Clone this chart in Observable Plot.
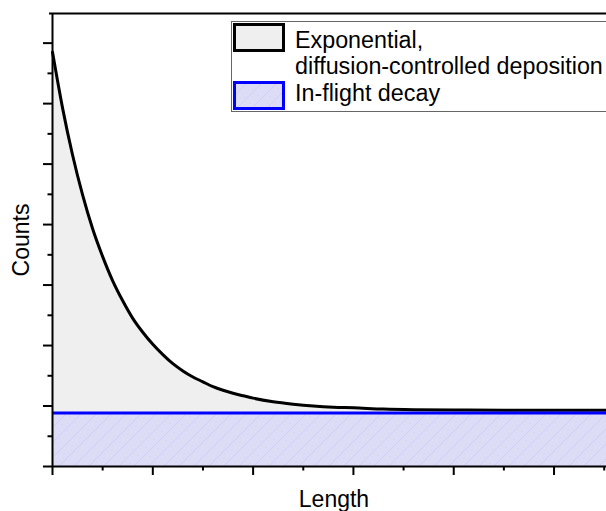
<!DOCTYPE html>
<html><head><meta charset="utf-8">
<script src="https://cdn.jsdelivr.net/npm/d3@7"></script>
<script src="https://cdn.jsdelivr.net/npm/@observablehq/plot@0.6"></script>
<style>body{margin:0;background:#fff} svg{display:block;overflow:hidden}</style>
</head><body><div id="chart"></div>
<script>
// Curve samples (arbitrary units)
const lengthX = [0, 0.1, 0.2, 0.3, 0.4, 0.5, 0.6, 0.7, 0.8, 0.9, 1.0, 1.1, 1.2, 1.3, 1.4, 1.5, 1.6, 1.7, 1.8, 1.9, 2.0, 2.2, 2.4, 2.6, 2.8, 3.0, 3.3, 3.6, 4.0, 4.5, 5.0, 5.6];
const countsY = [6.85, 5.93, 5.15, 4.49, 3.93, 3.47, 3.07, 2.74, 2.45, 2.22, 2.02, 1.85, 1.70, 1.58, 1.48, 1.40, 1.32, 1.26, 1.21, 1.17, 1.13, 1.07, 1.03, 1.00, 0.98, 0.97, 0.95, 0.94, 0.935, 0.93, 0.93, 0.93];
const decayLevel = 0.886;
const xDomain = [0, 5.523];
const yDomain = [0, 7.49];
const xMajorTicks = [0, 1, 2, 3, 4, 5];
const xMinorTicks = [0.5, 1.5, 2.5, 3.5, 4.5, 5.5];
const yMajorTicks = [0, 1, 2, 3, 4, 5, 6, 7];
const yMinorTicks = [0.5, 1.5, 2.5, 3.5, 4.5, 5.5, 6.5];
const legendLines = ["Exponential,", "diffusion-controlled deposition", "In-flight decay"];
const xLabel = "Length";
const yLabel = "Counts";

const curve = lengthX.map((x, i) => ({x, y: countsY[i]}));
const flat = [{x: xDomain[0]}, {x: xDomain[1]}];

const font = "'Liberation Sans', Arial, sans-serif";

const chart = Plot.plot({
  width: 606,
  height: 511,
  marginLeft: 52,
  marginRight: 0,
  marginTop: 13,
  marginBottom: 45,
  x: {domain: xDomain, axis: null},
  y: {domain: yDomain, axis: null},
  style: {fontFamily: font, background: "#fff"},
  marks: [
    Plot.areaY(curve, {x: "x", y1: decayLevel, y2: "y", fill: "#efefef", curve: "monotone-x"}),
    Plot.areaY(flat, {x: "x", y1: 0, y2: decayLevel, fill: "#dcdcf6"}),
    Plot.areaY(flat, {x: "x", y1: 0, y2: decayLevel, fill: "url(#hatch)"}),
    Plot.line(curve, {x: "x", y: "y", stroke: "black", strokeWidth: 3, curve: "monotone-x"}),
    Plot.ruleY([decayLevel], {stroke: "#0000ff", strokeWidth: 3}),
    // frame
    Plot.ruleX([0], {stroke: "black", strokeWidth: 2}),
    Plot.ruleY([0], {stroke: "black", strokeWidth: 2}),
    Plot.ruleY([yDomain[1]], {stroke: "black", strokeWidth: 2, insetLeft: -3}),
    // ticks
    Plot.axisX({ticks: xMajorTicks, tickSize: 9, tickFormat: () => "", label: null, strokeWidth: 2, tickPadding: 0}),
    Plot.axisX({ticks: xMinorTicks, tickSize: 4.5, tickFormat: () => "", label: null, strokeWidth: 2, tickPadding: 0}),
    Plot.axisY({ticks: yMajorTicks, tickSize: 9, tickFormat: () => "", label: null, strokeWidth: 2, tickPadding: 0}),
    Plot.axisY({ticks: yMinorTicks, tickSize: 4.5, tickFormat: () => "", label: null, strokeWidth: 2, tickPadding: 0})
  ]
});

const svg = d3.select(chart);
const defs = svg.insert("defs", ":first-child");
const pat = defs.append("pattern").attr("id", "hatch").attr("patternUnits", "userSpaceOnUse")
  .attr("width", 15).attr("height", 15);
pat.append("path").attr("d", "M-2,2 L2,-2 M0,15 L15,0 M13,17 L17,13")
  .attr("stroke", "#cfcff3").attr("stroke-width", 1).attr("fill", "none");

// Legend
const lg = svg.append("g").attr("font-family", font).attr("font-size", 23.3).attr("fill", "black")
  .attr("text-anchor", "start");
lg.append("rect").attr("x", 231.5).attr("y", 21.5).attr("width", 420).attr("height", 90)
  .attr("fill", "white").attr("stroke", "#666").attr("stroke-width", 1);
lg.append("rect").attr("x", 234.5).attr("y", 24.5).attr("width", 49).attr("height", 26)
  .attr("fill", "#efefef").attr("stroke", "black").attr("stroke-width", 3);
lg.append("rect").attr("x", 234.5).attr("y", 82.5).attr("width", 49).attr("height", 26)
  .attr("fill", "#dcdcf6").attr("stroke", "none");
lg.append("rect").attr("x", 234.5).attr("y", 82.5).attr("width", 49).attr("height", 26)
  .attr("fill", "url(#hatch)").attr("stroke", "#0000ff").attr("stroke-width", 3);
lg.append("text").attr("x", 295).attr("y", 48).text(legendLines[0]);
lg.append("text").attr("x", 295).attr("y", 74).text(legendLines[1]);
lg.append("text").attr("x", 295).attr("y", 101).text(legendLines[2]);

// Axis titles
svg.append("text").attr("x", 334).attr("y", 507).attr("text-anchor", "middle")
  .attr("font-family", font).attr("font-size", 23).attr("fill", "black").text(xLabel);
svg.append("text").attr("transform", "translate(29,240) rotate(-90)").attr("text-anchor", "middle")
  .attr("font-family", font).attr("font-size", 23).attr("fill", "black").text(yLabel);

document.getElementById("chart").appendChild(chart);
</script>
</body></html>
